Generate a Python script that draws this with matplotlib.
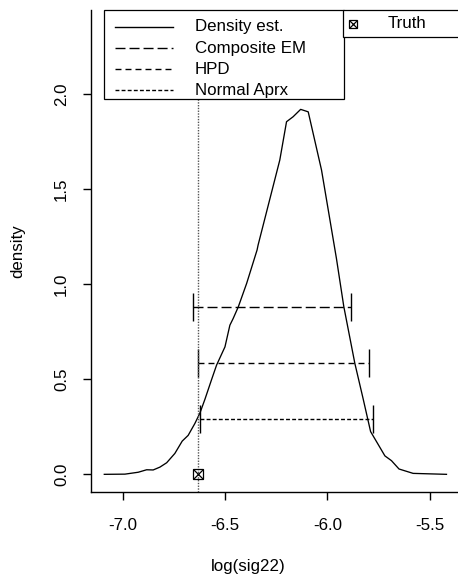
import matplotlib
matplotlib.use("Agg")
import matplotlib.pyplot as plt
from matplotlib.lines import Line2D
from matplotlib.patches import Rectangle

# Kernel density estimate of log(sig22)
density_x = [-7.091, -6.990, -6.925, -6.884, -6.852, -6.819, -6.786, -6.746,
             -6.710, -6.681, -6.648, -6.624, -6.599, -6.567, -6.542, -6.501,
             -6.477, -6.461, -6.436, -6.395, -6.344, -6.339, -6.233, -6.200,
             -6.168, -6.131, -6.094, -6.029, -5.956, -5.920, -5.866, -5.826,
             -5.789, -5.760, -5.719, -5.687, -5.650, -5.581, -5.516, -5.418]
density_y = [0.000, 0.001, 0.011, 0.024, 0.023, 0.038, 0.061, 0.110,
             0.175, 0.205, 0.268, 0.321, 0.395, 0.497, 0.575, 0.671,
             0.785, 0.820, 0.881, 1.005, 1.181, 1.207, 1.654, 1.856,
             1.882, 1.921, 1.908, 1.602, 1.136, 0.883, 0.584, 0.400,
             0.225, 0.172, 0.097, 0.072, 0.028, 0.005, 0.003, 0.000]

# Interval estimates: (label, lower, upper, drawing height)
interval_labels = ["Composite EM", "HPD", "Normal Aprx"]
interval_lower = [-6.659, -6.635, -6.622]
interval_upper = [-5.886, -5.797, -5.775]
interval_height = [0.879, 0.586, 0.293]
interval_dashes = [(7.2, 2.9), (4.3, 2.9), (2.8, 1.6)]

truth_value = -6.635

x_ticks = [-7.0, -6.5, -6.0, -5.5]
x_ticklabels = ["-7.0", "-6.5", "-6.0", "-5.5"]
y_ticks = [0.0, 0.5, 1.0, 1.5, 2.0]
y_ticklabels = ["0.0", "0.5", "1.0", "1.5", "2.0"]

W, H = 458, 579
DPI = 100
FS = 12.2
plt.rcParams["font.family"] = ["Liberation Sans", "DejaVu Sans"]

fig = plt.figure(figsize=(W / DPI, H / DPI), dpi=DPI)


def fx(px):
    return px / W


def fy(py):
    return 1 - py / H


# plotting region (extends slightly past the right edge)
left, right, top, bottom = 91, 461, 10, 492
ax = fig.add_axes([fx(left), fy(bottom), fx(right - left), (bottom - top) / H])
ax.set_xlim(-7.156, -5.347)
ax.set_ylim(-0.093, 2.444)
for s in ("top", "right"):
    ax.spines[s].set_visible(False)
for s in ("left", "bottom"):
    ax.spines[s].set_linewidth(1.0)

ax.plot(density_x, density_y, color="black", lw=0.95)

for lo, hi, h, d in zip(interval_lower, interval_upper, interval_height, interval_dashes):
    ax.plot([lo, hi], [h, h], color="black", lw=1.0, dashes=d)
    ax.plot([lo, hi], [h, h], linestyle="none", marker="|", markersize=20,
            markeredgewidth=1.0, color="black")

ax.axvline(truth_value, color="#555555", lw=1.0, dashes=(1, 1))
ax.plot([truth_value], [0], marker="s", markersize=6.5, markerfacecolor="none",
        markeredgecolor="black", markeredgewidth=0.9, linestyle="none")
ax.plot([truth_value], [0], marker="x", markersize=6.5, color="black",
        markeredgewidth=0.9, linestyle="none")

ax.set_xticks(x_ticks)
ax.set_xticklabels(x_ticklabels, fontsize=FS)
ax.set_yticks(y_ticks)
ax.set_yticklabels(y_ticklabels, fontsize=FS, rotation=90, va="center")
ax.tick_params(axis="both", length=5.8, width=1.0, direction="out")
ax.tick_params(axis="x", pad=13)
ax.tick_params(axis="y", pad=10)

fig.text(fx(248), fy(567), "log(sig22)", fontsize=FS, ha="center", va="center")
fig.text(fx(18), fy(251), "density", fontsize=FS, ha="center", va="center", rotation=90)

# legend: estimators
fig.patches.append(Rectangle((fx(104.3), fy(99.3)), fx(344.3 - 104.3), (99.3 - 10) / H,
                             transform=fig.transFigure, facecolor="white",
                             edgecolor="black", lw=0.9, zorder=5))
legend_rows = [27, 48, 69, 90]
legend_labels = ["Density est."] + interval_labels
legend_dashes = [None] + interval_dashes
for yy, lab, d in zip(legend_rows, legend_labels, legend_dashes):
    ln = Line2D([fx(115), fx(173)], [fy(yy), fy(yy)], transform=fig.transFigure,
                color="black", lw=1.0, zorder=6)
    if d is not None:
        ln.set_dashes(d)
    fig.lines.append(ln)
    fig.text(fx(195), fy(yy), lab, fontsize=FS, ha="left", va="center", zorder=6)

# legend: truth
fig.patches.append(Rectangle((fx(343), fy(36.7)), fx(120), (36.7 - 10) / H,
                             transform=fig.transFigure, facecolor="white",
                             edgecolor="black", lw=0.9, zorder=5))
for m in ("s", "x"):
    fig.lines.append(Line2D([fx(353)], [fy(24)], transform=fig.transFigure, marker=m,
                            markersize=6.0, markerfacecolor="none",
                            markeredgecolor="black", markeredgewidth=0.9,
                            linestyle="none", zorder=6))
fig.text(fx(388), fy(24), "Truth", fontsize=FS, ha="left", va="center", zorder=6)

fig.savefig("out.png", dpi=DPI)
